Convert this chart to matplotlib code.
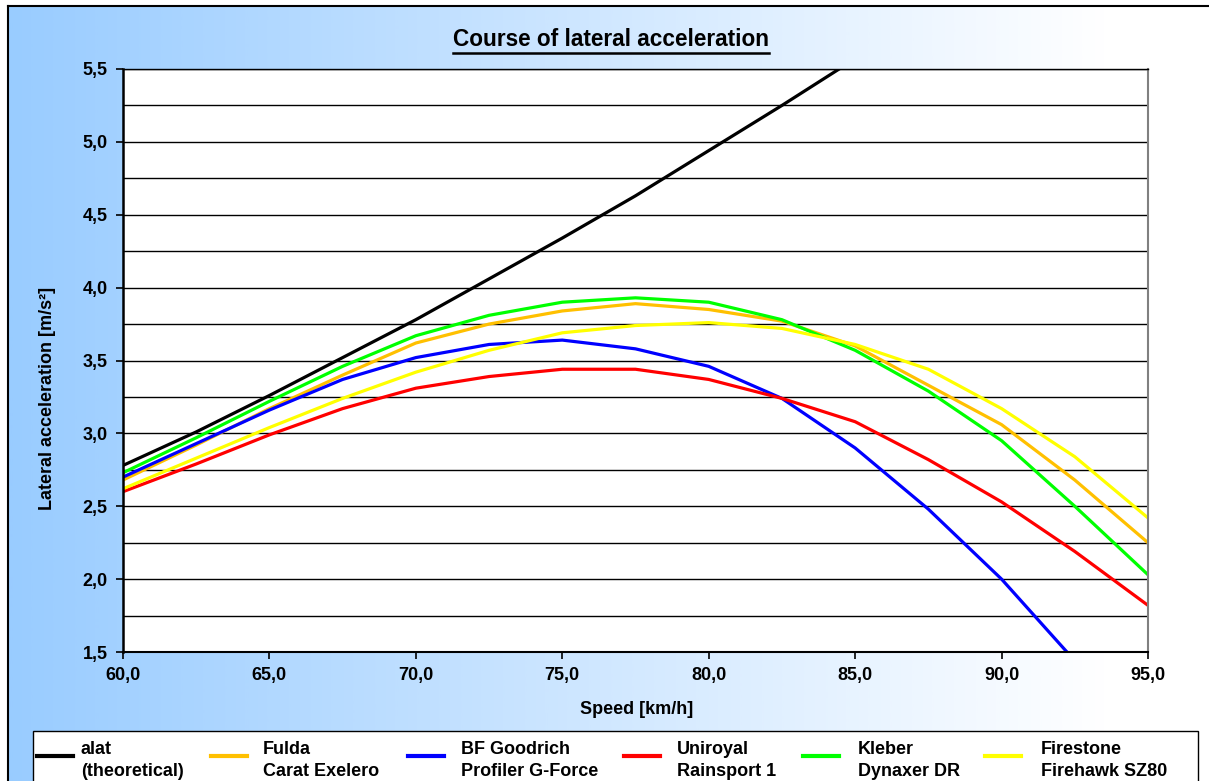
import numpy as np
import matplotlib.pyplot as plt
from matplotlib.colors import LinearSegmentedColormap
from matplotlib.lines import Line2D
from matplotlib.patches import Rectangle
from matplotlib.ticker import FuncFormatter

plt.rcParams['font.family'] = ['Liberation Sans', 'DejaVu Sans']
plt.rcParams['font.weight'] = 'bold'

# Data (speed in km/h, lateral acceleration in m/s²)
speeds = [60.0, 62.5, 65.0, 67.5, 70.0, 72.5, 75.0, 77.5, 80.0, 82.5, 85.0, 87.5, 90.0, 92.5, 95.0]
alat_speeds = speeds[:11]
alat = [2.78, 3.01, 3.26, 3.52, 3.78, 4.06, 4.34, 4.63, 4.94, 5.25, 5.57]
fulda = [2.68, 2.92, 3.17, 3.40, 3.62, 3.75, 3.84, 3.89, 3.85, 3.77, 3.60, 3.33, 3.06, 2.68, 2.25]
goodrich = [2.70, 2.93, 3.16, 3.37, 3.52, 3.61, 3.64, 3.58, 3.46, 3.24, 2.90, 2.48, 2.00, 1.44, np.nan]
uniroyal = [2.60, 2.79, 2.99, 3.17, 3.31, 3.39, 3.44, 3.44, 3.37, 3.24, 3.08, 2.82, 2.53, 2.19, 1.82]
kleber = [2.73, 2.97, 3.22, 3.46, 3.67, 3.81, 3.90, 3.93, 3.90, 3.78, 3.57, 3.29, 2.95, 2.50, 2.03]
firestone = [2.62, 2.83, 3.04, 3.24, 3.42, 3.57, 3.69, 3.74, 3.76, 3.72, 3.61, 3.44, 3.17, 2.84, 2.42]

labels = [("alat", "(theoretical)"), ("Fulda", "Carat Exelero"),
          ("BF Goodrich", "Profiler G-Force"), ("Uniroyal", "Rainsport 1"),
          ("Kleber", "Dynaxer DR"), ("Firestone", "Firehawk SZ80")]
colors = ["#000000", "#FFC000", "#0000FF", "#FF0000", "#00FF00", "#FFFF00"]

W, H = 1209, 781


def fx(x):
    return x / W


def fy(y):
    return 1 - y / H


fig = plt.figure(figsize=(W / 100, H / 100), dpi=100)

# gradient background of the chart area
bg = fig.add_axes([fx(8), 0, 1 - fx(8), fy(6)])
cmap = LinearSegmentedColormap.from_list("bg", ["#99CCFF", "#FFFFFF"])
t = np.clip(np.linspace(0, 1201 / 1100, 600), 0, 1)
bg.imshow(t[None, :], cmap=cmap, aspect="auto", extent=[0, 1, 0, 1], vmin=0, vmax=1)
bg.set_xticks([])
bg.set_yticks([])
for side in ["right", "bottom"]:
    bg.spines[side].set_visible(False)
for side in ["top", "left"]:
    bg.spines[side].set_linewidth(1.5)
bg.set_zorder(0)

# plot area
ax = fig.add_axes([fx(123), fy(652), fx(1148) - fx(123), fy(69) - fy(652)])
ax.set_zorder(1)
ax.set_facecolor("white")

ax.plot(alat_speeds, alat, color=colors[0], lw=2.3)
ax.plot(speeds, fulda, color=colors[1], lw=2.3)
ax.plot(speeds, goodrich, color=colors[2], lw=2.3)
ax.plot(speeds, uniroyal, color=colors[3], lw=2.3)
ax.plot(speeds, kleber, color=colors[4], lw=2.3)
ax.plot(speeds, firestone, color=colors[5], lw=2.3)

ax.set_xlim(60, 95)
ax.set_ylim(1.5, 5.5)
ax.set_xticks(np.arange(60, 95.1, 5))
ax.set_yticks(np.arange(1.5, 5.51, 0.5))
ax.set_yticks(np.arange(1.5, 5.51, 0.25), minor=True)
ax.yaxis.grid(True, which="both", color="black", lw=1.0)
ax.set_axisbelow(True)
ax.tick_params(axis="y", which="minor", length=0)
ax.tick_params(axis="both", which="major", length=5, width=1.2, labelsize=13, pad=6)
ax.xaxis.set_major_formatter(FuncFormatter(lambda v, p: f"{v:.1f}".replace(".", ",")))
ax.yaxis.set_major_formatter(FuncFormatter(lambda v, p: f"{v:.1f}".replace(".", ",")))
for lab in ax.get_xticklabels() + ax.get_yticklabels():
    lab.set_fontweight("bold")

ax.spines["left"].set_linewidth(1.8)
ax.spines["bottom"].set_linewidth(1.5)
ax.spines["top"].set_linewidth(1.0)
ax.spines["right"].set_color("#808080")
ax.spines["right"].set_linewidth(1.5)

fig.text(fx(637), fy(709), "Speed [km/h]", ha="center", va="center", fontsize=13, fontweight="bold")
fig.text(fx(48), fy(398), "Lateral acceleration [m/s²]", ha="center", va="center",
         rotation=90, fontsize=13, fontweight="bold")

title = fig.text(fx(611), fy(40), "Course of lateral acceleration", ha="center", va="center",
                 fontsize=16.3, fontweight="bold")

# legend box with manual entries
fig.add_artist(Rectangle((fx(33), fy(800)), fx(1198) - fx(33), fy(731) - fy(800),
                         transform=fig.transFigure, facecolor="white", edgecolor="black",
                         lw=1.0, zorder=2))
handle_x = [37, 211, 408, 624, 803, 985]
text_x = [81, 263, 461, 677, 858, 1041]
for hx, tx, col, (l1, l2) in zip(handle_x, text_x, colors, labels):
    fig.add_artist(Line2D([fx(hx), fx(hx + 36)], [fy(756), fy(756)], color=col, lw=3.0,
                          transform=fig.transFigure, zorder=3))
    fig.text(fx(tx), fy(754), l1, ha="left", va="baseline", fontsize=13, fontweight="bold", zorder=3)
    fig.text(fx(tx), fy(776), l2, ha="left", va="baseline", fontsize=13, fontweight="bold", zorder=3)

# underline the title
fig.canvas.draw()
bb = title.get_window_extent().transformed(fig.transFigure.inverted())
fig.add_artist(Line2D([bb.x0, bb.x1], [bb.y0 - 0.002, bb.y0 - 0.002], color="black", lw=1.8,
                      transform=fig.transFigure))

fig.savefig("out.png", dpi=100)
